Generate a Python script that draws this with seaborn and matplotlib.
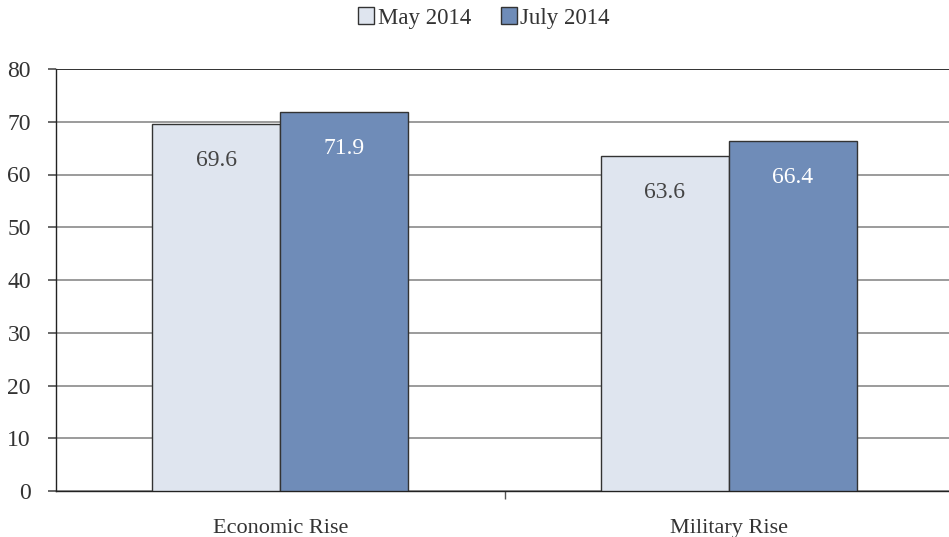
import pandas as pd
import numpy as np
import matplotlib.pyplot as plt
import seaborn as sns

categories = ['Economic Rise', 'Military Rise']
may_2014 = [69.6, 63.6]
july_2014 = [71.9, 66.4]
series_names = ['May 2014', 'July 2014']
yticks = [0, 10, 20, 30, 40, 50, 60, 70, 80]

df = pd.DataFrame({
    'category': categories * 2,
    'survey': [series_names[0]] * 2 + [series_names[1]] * 2,
    'value': may_2014 + july_2014,
})

sns.set_theme(style='white')
plt.rcParams['font.family'] = ['Liberation Serif', 'DejaVu Serif']

fig = plt.figure(figsize=(9.49, 5.37), dpi=100)
ax = fig.add_axes([56 / 949, 1 - 491 / 537, 893 / 949, (491 - 69) / 537])

palette = {'May 2014': '#dfe5ef', 'July 2014': '#6f8cb8'}
sns.barplot(data=df, x='category', y='value', hue='survey', palette=palette,
            width=0.571, edgecolor='#333333', linewidth=1.0, saturation=1,
            ax=ax, legend=True, zorder=3)

ax.set_ylim(0, 80)
ax.set_xlim(-0.5, 1.5 - 4 / 448)
ax.set_yticks(yticks)
ax.yaxis.grid(True, color='#8a8a8a', linewidth=1.2, zorder=0)
ax.set_axisbelow(True)
ax.axhline(80, color='#222222', linewidth=1.2, zorder=1)

for s in ['top', 'right']:
    ax.spines[s].set_visible(False)
for s in ['left', 'bottom']:
    ax.spines[s].set_color('#222222')
    ax.spines[s].set_linewidth(1.0)

ax.set_xticks([0, 1])
ax.set_xticklabels(categories)
ax.set_xticks([0.5], minor=True)
ax.tick_params(axis='x', which='major', length=0, pad=20, labelsize=16, labelcolor='#333333')
ax.tick_params(axis='x', which='minor', length=6, direction='out', color='#555555', bottom=True)
ax.tick_params(axis='y', length=6, direction='out', color='#555555', labelsize=17,
               labelcolor='#333333', pad=12, left=True)
ax.set_xlabel('')
ax.set_ylabel('')

label_colors = ['#444444', '#ffffff']
for cont, c in zip(ax.containers, label_colors):
    ax.bar_label(cont, labels=[f'{v:.1f}' for v in cont.datavalues], padding=-34,
                 color=c, fontsize=17)

handles, labels = ax.get_legend_handles_labels()
ax.legend(handles, labels, loc='center', bbox_to_anchor=(428 / 893, 1 + 51 / 422),
          ncol=2, frameon=False, fontsize=16.5, handlelength=0.7, handleheight=0.7,
          handletextpad=0.15, columnspacing=1.3, labelcolor='#333333')

fig.savefig('out.png', dpi=100)
